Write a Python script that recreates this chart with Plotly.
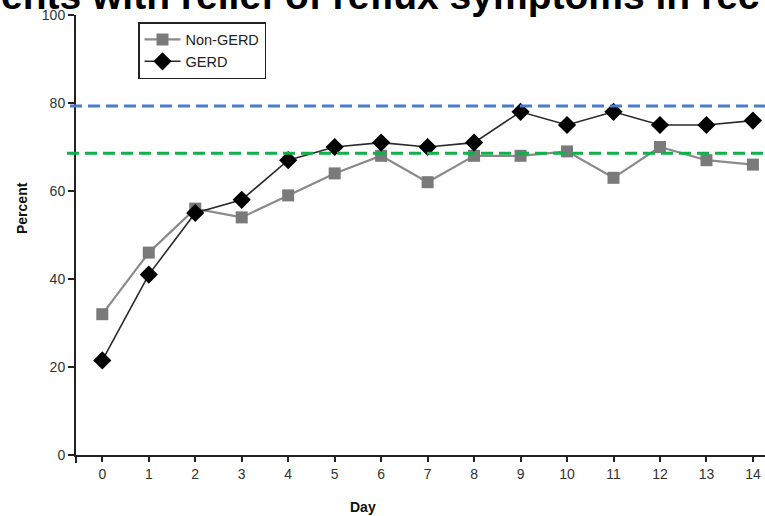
import plotly.graph_objects as go

days = list(range(15))
non_gerd = [32, 46, 56, 54, 59, 64, 68, 62, 68, 68, 69, 63, 70, 67, 66]
gerd = [21.5, 41, 55, 58, 67, 70, 71, 70, 71, 78, 75, 78, 75, 75, 76]
ref_blue = 79.3
ref_green = 68.6
y_ticks = [0, 20, 40, 60, 80, 100]

W, H = 765, 516
L, R, T, B = 76, 0, 15, 61
pw, ph = W - L - R, H - T - B


def px_x(p):
    return (p - L) / pw


def px_y(p):
    return (H - B - p) / ph


font = "Liberation Sans, Arial, sans-serif"

fig = go.Figure()
fig.add_trace(go.Scatter(
    x=days, y=non_gerd, name="Non-GERD", mode="lines+markers",
    line=dict(color="#8a8a8a", width=2.2),
    marker=dict(symbol="square", size=12, color="#7a7a7a"),
))
fig.add_trace(go.Scatter(
    x=days, y=gerd, name="GERD", mode="lines+markers",
    line=dict(color="#2a2a2a", width=1.6),
    marker=dict(symbol="diamond", size=14, color="#000000"),
))

# reference levels
fig.add_shape(type="line", xref="paper", yref="y", x0=px_x(70), x1=1.0,
              y0=ref_blue, y1=ref_blue,
              line=dict(color="#4a7cc8", width=3, dash="12px,6px"))
fig.add_shape(type="line", xref="paper", yref="y", x0=px_x(67), x1=1.0,
              y0=ref_green, y1=ref_green,
              line=dict(color="#10b04a", width=3, dash="12px,6px"))
# y axis stub below the x axis
fig.add_shape(type="line", xref="paper", yref="paper", x0=0, x1=0,
              y0=0, y1=px_y(463), line=dict(color="#222", width=2))

fig.add_annotation(text="<b>ents with relief of reflux symptoms in rec</b>",
                   xref="paper", yref="paper", x=px_x(-1), y=px_y(19),
                   xanchor="left", yanchor="bottom", showarrow=False,
                   font=dict(family=font, size=39, color="#000"))
fig.add_annotation(text="<b>Day</b>", xref="paper", yref="paper",
                   x=px_x(363), y=px_y(507), xanchor="center", yanchor="middle",
                   showarrow=False, font=dict(family=font, size=14, color="#111"))
fig.add_annotation(text="<b>Percent</b>", xref="paper", yref="paper",
                   x=px_x(22), y=px_y(208), xanchor="center", yanchor="middle",
                   textangle=-90, showarrow=False,
                   font=dict(family=font, size=14, color="#111"))

fig.update_layout(
    width=W, height=H,
    margin=dict(l=L, r=R, t=T, b=B),
    paper_bgcolor="white", plot_bgcolor="white",
    font=dict(family=font, size=14, color="#333"),
    showlegend=True,
    legend=dict(x=px_x(138), y=px_y(22), xanchor="left", yanchor="top",
                bordercolor="#222", borderwidth=1.5, bgcolor="white",
                font=dict(family=font, size=14.5, color="#222"),
                tracegroupgap=0, itemwidth=36),
    xaxis=dict(range=[-0.566, 14.26], tickmode="array", tickvals=days,
               ticktext=[str(d) for d in days], showline=True, linecolor="#222",
               linewidth=2, ticks="outside", ticklen=5, tickwidth=2,
               tickcolor="#222", showgrid=False, zeroline=False),
    yaxis=dict(range=[0, 100], tickmode="array", tickvals=y_ticks,
               showline=True, linecolor="#222", linewidth=2, ticks="outside",
               ticklen=6, tickwidth=2, tickcolor="#222", showgrid=False,
               zeroline=False),
)

fig.write_html("out.html")
